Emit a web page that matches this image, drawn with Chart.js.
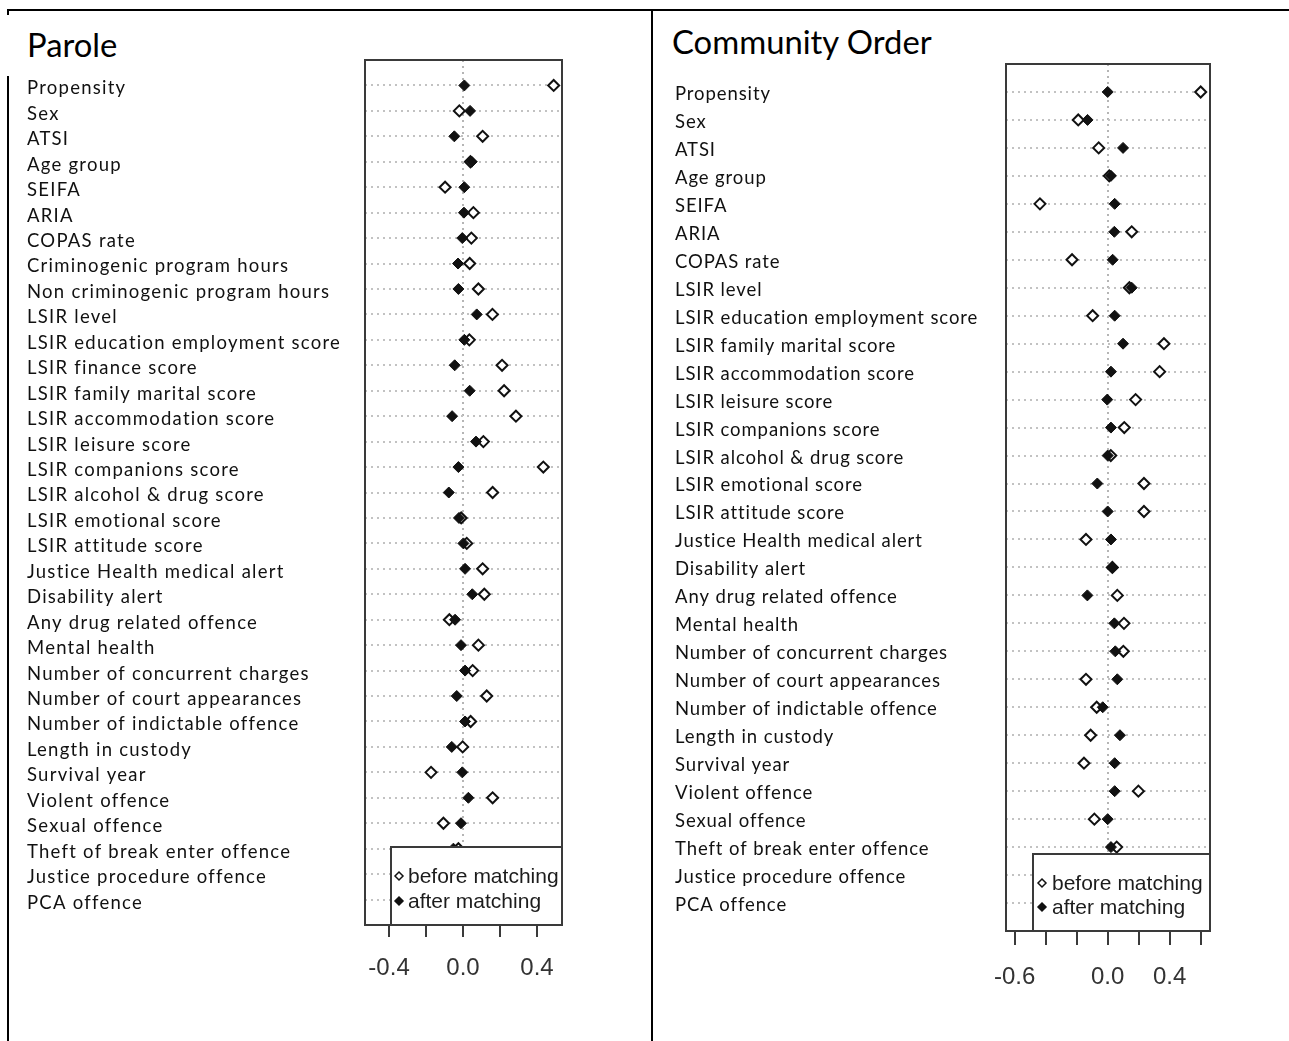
<!DOCTYPE html>
<html>
<head>
<meta charset="utf-8">
<title>Covariate balance: Parole and Community Order</title>
<script src="https://cdn.jsdelivr.net/npm/chart.js@4.4.1/dist/chart.umd.min.js"></script>
<style>
  html, body { margin: 0; padding: 0; background: #fff; }
  body { width: 1289px; height: 1041px; position: relative; overflow: hidden; font-family: Lato, "Open Sans", sans-serif; }
  .rule { position: absolute; background: #000; }
  .title { position: absolute; font-size: 32.8px; line-height: 1; color: #000; white-space: nowrap; }
  canvas { position: absolute; top: 0; }
</style>
</head>
<body>
<div class="rule" style="left:7px;top:9px;width:1282px;height:2px"></div>
<div class="rule" style="left:7px;top:9px;width:2px;height:6px"></div>
<div class="rule" style="left:7px;top:76px;width:2px;height:965px"></div>
<div class="rule" style="left:651px;top:9px;width:2px;height:1032px"></div>

<div class="title" style="left:27px;top:29px">Parole</div>
<div class="title" style="left:672px;top:26px">Community Order</div>

<canvas id="parole" width="651" height="1041" style="left:0"></canvas>
<canvas id="community" width="636" height="1041" style="left:653px"></canvas>

<script>
// ---- Parole: standardised differences before / after matching ----
const paroleLabels = [
  'Propensity', 'Sex', 'ATSI', 'Age group', 'SEIFA', 'ARIA', 'COPAS rate',
  'Criminogenic program hours', 'Non criminogenic program hours', 'LSIR level',
  'LSIR education employment score', 'LSIR finance score', 'LSIR family marital score',
  'LSIR accommodation score', 'LSIR leisure score', 'LSIR companions score',
  'LSIR alcohol & drug score', 'LSIR emotional score', 'LSIR attitude score',
  'Justice Health medical alert', 'Disability alert', 'Any drug related offence',
  'Mental health', 'Number of concurrent charges', 'Number of court appearances',
  'Number of indictable offence', 'Length in custody', 'Survival year',
  'Violent offence', 'Sexual offence', 'Theft of break enter offence',
  'Justice procedure offence', 'PCA offence'
];
const paroleBefore = [
  0.49, -0.02, 0.106, 0.04, -0.097, 0.056, 0.045, 0.036, 0.083, 0.159,
  0.034, 0.211, 0.222, 0.286, 0.11, 0.434, 0.16, -0.01, 0.02, 0.106,
  0.115, -0.074, 0.083, 0.052, 0.128, 0.041, -0.002, -0.173, 0.16, -0.106,
  -0.025, null, null
];
const paroleAfter = [
  0.007, 0.038, -0.047, 0.047, 0.007, 0.005, -0.004, -0.027, -0.025, 0.074,
  0.007, -0.045, 0.036, -0.059, 0.07, -0.025, -0.077, -0.022, 0.002, 0.011,
  0.05, -0.043, -0.011, 0.011, -0.034, 0.011, -0.061, -0.004, 0.029, -0.011,
  -0.052, null, null
];
const paroleTickLabels = ['-0.4', '0.0', '0.4'];

// ---- Community Order ----
const coLabels = [
  'Propensity', 'Sex', 'ATSI', 'Age group', 'SEIFA', 'ARIA', 'COPAS rate', 'LSIR level',
  'LSIR education employment score', 'LSIR family marital score',
  'LSIR accommodation score', 'LSIR leisure score', 'LSIR companions score',
  'LSIR alcohol & drug score', 'LSIR emotional score', 'LSIR attitude score',
  'Justice Health medical alert', 'Disability alert', 'Any drug related offence',
  'Mental health', 'Number of concurrent charges', 'Number of court appearances',
  'Number of indictable offence', 'Length in custody', 'Survival year',
  'Violent offence', 'Sexual offence', 'Theft of break enter offence',
  'Justice procedure offence', 'PCA offence'
];
const coBefore = [
  0.60, -0.19, -0.058, 0.01, -0.437, 0.155, -0.23, 0.14, -0.097, 0.363,
  0.335, 0.18, 0.107, 0.02, 0.234, 0.234, -0.14, 0.03, 0.062, 0.105,
  0.101, -0.14, -0.071, -0.11, -0.153, 0.198, -0.086, 0.058, null, null
];
const coAfter = [
  0.0, -0.13, 0.099, 0.021, 0.045, 0.043, 0.032, 0.155, 0.045, 0.099,
  0.021, -0.003, 0.021, 0.0, -0.067, 0.0, 0.021, 0.032, -0.131, 0.043,
  0.049, 0.062, -0.032, 0.079, 0.045, 0.045, 0.0, 0.021, null, null
];
const coTickLabels = ['-0.6', '0.0', '0.4'];

const seriesNames = ['before matching', 'after matching'];

// one point per covariate row; rows are numbered from the top
function toPoints(values) {
  return values
    .map((v, i) => (v === null ? null : { x: v, y: i + 1 }))
    .filter(Boolean);
}

function diamond(ctx, x, y, r) {
  ctx.beginPath();
  ctx.moveTo(x, y - r);
  ctx.lineTo(x + r, y);
  ctx.lineTo(x, y + r);
  ctx.lineTo(x - r, y);
  ctx.closePath();
}

// plot frame plus a boxed key in the lower-right corner of the plot region
const frameAndKey = {
  id: 'frameAndKey',
  afterDatasetsDraw(chart, args, opts) {
    const { ctx, chartArea: a } = chart;
    ctx.save();
    ctx.strokeStyle = '#3a3a3a';
    ctx.lineWidth = 2;
    ctx.strokeRect(a.left, a.top, a.right - a.left, a.bottom - a.top);

    const x0 = a.right - opts.width;
    const y0 = a.bottom - opts.height;
    ctx.fillStyle = '#fff';
    ctx.fillRect(x0, y0, opts.width, opts.height);
    ctx.strokeRect(x0, y0, opts.width, opts.height);

    ctx.font = '21px "Liberation Sans", Arial, sans-serif';
    ctx.textBaseline = 'middle';
    ctx.textAlign = 'left';
    chart.data.datasets.forEach((ds, i) => {
      const cy = y0 + opts.rows[i];
      diamond(ctx, x0 + opts.markX, cy - 1, 4);
      ctx.fillStyle = ds.backgroundColor;
      ctx.fill();
      ctx.lineWidth = 1.5;
      ctx.strokeStyle = ds.borderColor;
      ctx.stroke();
      ctx.fillStyle = '#1c1c1c';
      ctx.fillText(ds.label, x0 + opts.textX, cy);
    });
    ctx.restore();
  }
};

// covariate names are set with a little extra tracking
function trackLabels(scale, spacing) {
  if (scale._tracked) return;
  const drawLabels = scale.drawLabels.bind(scale);
  scale.drawLabels = function (area) {
    const c = this.ctx;
    const prev = c.letterSpacing;
    if (prev !== undefined) c.letterSpacing = spacing;
    drawLabels(area);
    if (prev !== undefined) c.letterSpacing = prev;
  };
  scale._tracked = true;
}

function makePanel(id, cfg) {
  const n = cfg.labels.length;
  return new Chart(document.getElementById(id), {
    type: 'scatter',
    data: {
      datasets: [
        {
          label: seriesNames[0], data: toPoints(cfg.before), order: 1,
          pointStyle: 'rectRot', pointRadius: 5.5,
          backgroundColor: '#ffffff', borderColor: '#111111', borderWidth: 2
        },
        {
          label: seriesNames[1], data: toPoints(cfg.after), order: 0,
          pointStyle: 'rectRot', pointRadius: 5.5,
          backgroundColor: '#111111', borderColor: '#111111', borderWidth: 1
        }
      ]
    },
    options: {
      responsive: false,
      animation: false,
      devicePixelRatio: 1,
      events: [],
      layout: { padding: cfg.padding },
      plugins: {
        legend: { display: false },
        tooltip: { enabled: false },
        frameAndKey: cfg.key
      },
      scales: {
        x: {
          type: 'linear', position: 'bottom', min: cfg.xMin, max: cfg.xMax,
          afterFit: s => { s.height = cfg.xAxisHeight; },
          border: { display: false, dash: [2, 4] },
          grid: {
            color: c => (c.tick && Math.abs(c.tick.value) < 1e-9) ? '#b5b5b5' : 'rgba(0,0,0,0)',
            lineWidth: 2,
            drawTicks: true,
            tickLength: cfg.tickLength,
            tickColor: '#3a3a3a',
            tickWidth: 2
          },
          ticks: {
            stepSize: 0.2, includeBounds: false, autoSkip: false, maxRotation: 0,
            padding: cfg.tickPad, color: '#333',
            font: { family: '"Liberation Sans", Arial, sans-serif', size: 24 },
            callback: v => {
              const t = (Math.abs(v) < 1e-9 ? 0 : Number(v)).toFixed(1);
              return cfg.tickLabels.includes(t) ? t : '';
            }
          }
        },
        y: {
          type: 'linear', reverse: true, min: 0, max: n + 1,
          afterFit: s => { s.width = cfg.yAxisWidth; trackLabels(s, cfg.tracking); },
          border: { display: false, dash: [2, 4] },
          grid: {
            color: c => (c.tick && c.tick.value >= 1 && c.tick.value <= n) ? '#c2c2c2' : 'rgba(0,0,0,0)',
            lineWidth: 2,
            drawTicks: false
          },
          ticks: {
            stepSize: 1, maxTicksLimit: 200, autoSkip: false, crossAlign: 'far', padding: 0,
            labelOffset: cfg.labelOffset,
            color: '#111',
            font: { family: 'Lato, "Open Sans", sans-serif', size: cfg.labelSize },
            callback: v => cfg.labels[v - 1] || ''
          }
        }
      }
    },
    plugins: [frameAndKey]
  });
}

function build() {
  makePanel('parole', {
    labels: paroleLabels, before: paroleBefore, after: paroleAfter,
    tickLabels: paroleTickLabels,
    xMin: -0.53, xMax: 0.535,
    padding: { left: 27, top: 60, right: 89, bottom: 46 },
    yAxisWidth: 338, xAxisHeight: 70, tickLength: 12, tickPad: 17,
    labelSize: 18.5, tracking: '1.25px', labelOffset: 3,
    key: { width: 171, height: 78, rows: [30, 55], markX: 8, textX: 17 }
  });
  makePanel('community', {
    labels: coLabels, before: coBefore, after: coAfter,
    tickLabels: coTickLabels,
    xMin: -0.656, xMax: 0.66,
    padding: { left: 22, top: 64, right: 79, bottom: 40 },
    yAxisWidth: 331, xAxisHeight: 70, tickLength: 14, tickPad: 18,
    labelSize: 18.5, tracking: '0.9px', labelOffset: 2,
    key: { width: 177, height: 77, rows: [30, 54], markX: 9, textX: 19 }
  });
}

Promise.all([
  document.fonts.load('18px Lato'),
  document.fonts.load('21px "Liberation Sans"')
]).catch(() => {}).then(build);
</script>
</body>
</html>
